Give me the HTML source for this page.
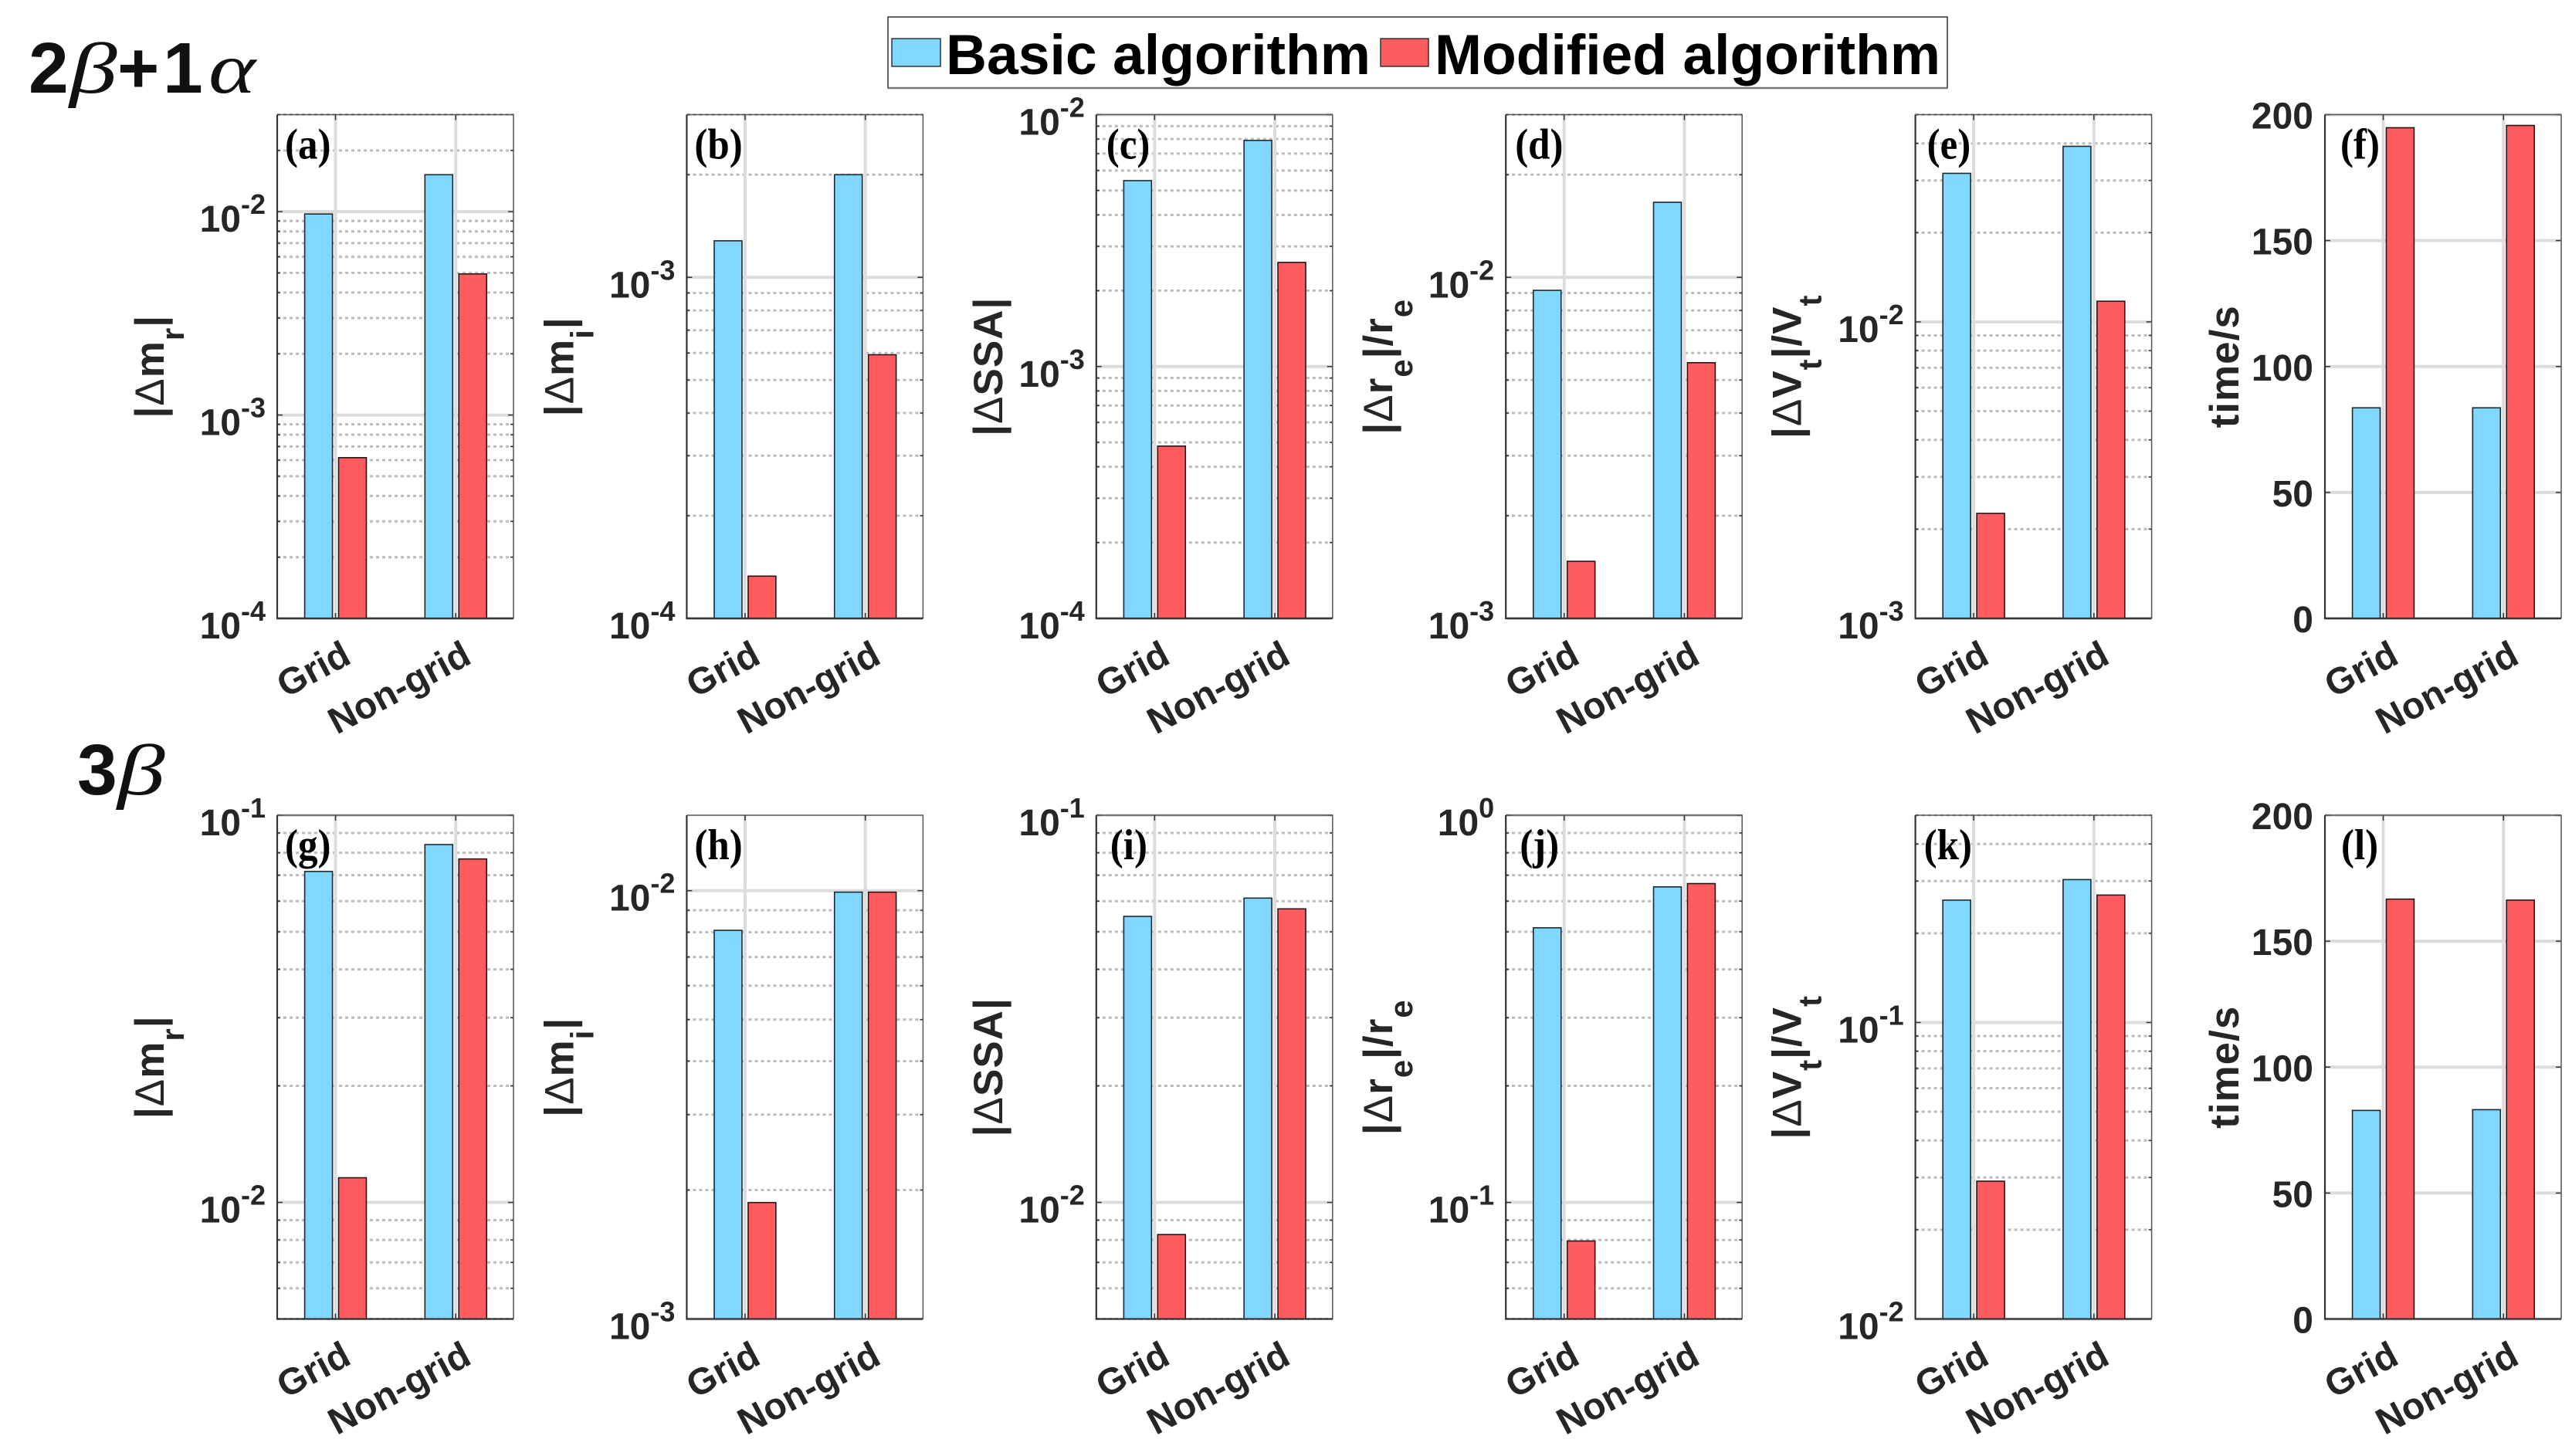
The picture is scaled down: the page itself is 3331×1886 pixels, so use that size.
<!DOCTYPE html>
<html lang="en">
<head>
<meta charset="utf-8">
<title>Basic vs modified algorithm error comparison</title>
<style>
  html, body { margin: 0; padding: 0; background: #ffffff; }
  svg { display: block; }
  text { font-family: "Liberation Sans", Arial, sans-serif; }
  .greek { font-family: "Liberation Serif", serif; font-style: italic; font-weight: 400; }
</style>
</head>
<body>
<svg id="figure" xmlns="http://www.w3.org/2000/svg" width="3331" height="1886" viewBox="0 0 3331 1886">
  <rect x="0" y="0" width="3331" height="1886" fill="#ffffff"/>

  <g font-size="93" font-weight="700" fill="#111111">
    <text x="37" y="120">2</text>
    <text class="greek" transform="translate(90 120) scale(1.33 1)">β</text>
    <text x="152" y="120">+</text>
    <text x="211" y="120">1</text>
    <text class="greek" transform="translate(270 120) scale(1.25 1)">α</text>
  </g>
  <g font-size="93" font-weight="700" fill="#111111">
    <text x="100" y="1029">3</text>
    <text class="greek" transform="translate(152 1029) scale(1.33 1)">β</text>
  </g>

  <g>
    <rect x="1150" y="22" width="1372" height="92" fill="#ffffff" stroke="#333333" stroke-width="1.5"/>
    <line x1="1150" y1="114" x2="2522" y2="114" stroke="#777777" stroke-width="2.5"/>
    <g>
      <rect x="1155" y="50" width="63" height="36" fill="#80d7ff" stroke="#333333" stroke-width="1.5"/>
      <text x="1225" y="96" font-size="73" font-weight="700" fill="#000000" textLength="550" lengthAdjust="spacingAndGlyphs">Basic algorithm</text>
    </g>
    <g>
      <rect x="1788" y="50" width="62" height="36" fill="#ff5c60" stroke="#333333" stroke-width="1.5"/>
      <text x="1858" y="96" font-size="73" font-weight="700" fill="#000000" textLength="655" lengthAdjust="spacingAndGlyphs">Modified algorithm</text>
    </g>
  </g>

  <g id="panels"></g>
</svg>

<script>
// ---------- chart data ----------
const categories = ['Grid', 'Non-grid'];
const panelLetters = ['(a)', '(b)', '(c)', '(d)', '(e)', '(f)', '(g)', '(h)', '(i)', '(j)', '(k)', '(l)'];
const yTitles = [
  '|Δm_r|', '|Δm_i|', '|ΔSSA|', '|Δr_e|/r_e', '|ΔV_t|/V_t', 'time/s',
  '|Δm_r|', '|Δm_i|', '|ΔSSA|', '|Δr_e|/r_e', '|ΔV_t|/V_t', 'time/s'
];
const basicValues = [
  [0.00974, 0.0152], [0.00128, 0.0020], [0.00547, 0.0079],
  [0.00916, 0.0166], [0.0317, 0.0391], [83.6, 83.6],
  [0.0716, 0.084], [0.00808, 0.00992], [0.0548, 0.0611],
  [0.512, 0.653], [0.2586, 0.3033], [82.8, 83.1]
];
const modifiedValues = [
  [0.000617, 0.00494], [0.000133, 0.000593], [0.000483, 0.00259],
  [0.00147, 0.00562], [0.00226, 0.01174], [194.8, 195.7],
  [0.01158, 0.0771], [0.00187, 0.00992], [0.00826, 0.0573],
  [0.0795, 0.666], [0.02915, 0.269], [166.7, 166.3]
];
const yLimits = [
  [1e-4, 0.03], [1e-4, 0.003], [1e-4, 0.01],
  [1e-3, 0.03], [1e-3, 0.05], [0, 200],
  [0.005, 0.1], [1e-3, 0.015], [0.005, 0.1],
  [0.05, 1], [0.01, 0.5], [0, 200]
];
const yScaleTypes = ['log', 'log', 'log', 'log', 'log', 'linear', 'log', 'log', 'log', 'log', 'log', 'linear'];
const logTickExponents = [
  [-4, -3, -2], [-4, -3], [-4, -3, -2],
  [-3, -2], [-3, -2], [],
  [-2, -1], [-3, -2], [-2, -1],
  [-1, 0], [-2, -1], []
];
const linearTickValues = [0, 50, 100, 150, 200];

// ---------- layout constants ----------
const NS = 'http://www.w3.org/2000/svg';
const AX_W = 306, AX_H = 652.5, COLS = 6;
const XLIM = [0.515, 2.48];
const BAR_OFFSET = 0.141, BAR_WIDTH = 0.231;
const BASIC_FILL = '#80d7ff', MOD_FILL = '#ff5c60', TEXT_FILL = '#262626';
const titleGap = [147, 147, 122, 147, 148, 112];
const letterInset = [10, 10, 13, 12, 15, 20, 10, 10, 18, 18, 11, 21];

function make(tag, parent, attrs) {
  const el = document.createElementNS(NS, tag);
  for (const k in attrs) el.setAttribute(k, attrs[k]);
  parent.appendChild(el);
  return el;
}
function axLeft(p) { return 359 + (p % COLS) * 530.4; }
function axTop(p) { return p < COLS ? 148.5 : 1056; }
function xScale(p, v) { return axLeft(p) + (v - XLIM[0]) / (XLIM[1] - XLIM[0]) * AX_W; }
function yScale(p, v) {
  const lim = yLimits[p], bottom = axTop(p) + AX_H;
  if (yScaleTypes[p] === 'log') {
    return bottom - (Math.log10(v) - Math.log10(lim[0])) / (Math.log10(lim[1]) - Math.log10(lim[0])) * AX_H;
  }
  return bottom - (v - lim[0]) / (lim[1] - lim[0]) * AX_H;
}
function minorValues(p) {
  const out = [], lim = yLimits[p];
  const lo = Math.floor(Math.log10(lim[0]) + 1e-9), hi = Math.ceil(Math.log10(lim[1]) - 1e-9);
  for (let e = lo; e < hi; e++) {
    for (let m = 2; m <= 9; m++) {
      const v = m * Math.pow(10, e);
      if (v >= lim[0] * 0.999 && v <= lim[1] * 1.001) out.push(v);
    }
  }
  return out;
}

const root = document.getElementById('panels');

for (let p = 0; p < panelLetters.length; p++) {
  const id = panelLetters[p].replace(/[()]/g, '');
  const L = axLeft(p), T = axTop(p), B = T + AX_H, R = L + AX_W;

  const g = make('g', root, {});
  
  

  // minor grid (log panels)
  if (yScaleTypes[p] === 'log') {
    minorValues(p).forEach(function (v) {
      const y = yScale(p, v);
      const gl = make('line', g, { x1: L, x2: R, y1: y, y2: y, stroke: '#bcbcbc', 'stroke-width': 3, 'stroke-dasharray': '4 4' });
      
      
      const t1 = make('line', g, { x1: L, x2: L + 4, y1: y, y2: y, stroke: '#333333', 'stroke-width': 1.5 });
      
      
      const t2 = make('line', g, { x1: R - 4, x2: R, y1: y, y2: y, stroke: '#333333', 'stroke-width': 1.5 });
      
      
    });
  }

  // major y grid, ticks, labels
  const isLog = yScaleTypes[p] === 'log';
  const majors = isLog ? logTickExponents[p] : linearTickValues;
  majors.forEach(function (m) {
    const v = isLog ? Math.pow(10, m) : m;
    const y = yScale(p, v);
    const gl = make('line', g, { x1: L, x2: R, y1: y, y2: y, stroke: '#dcdcdc', 'stroke-width': 4 });
    
    
    const t1 = make('line', g, { x1: L, x2: L + 7, y1: y, y2: y, stroke: '#333333', 'stroke-width': 1.5 });
    
    
    const t2 = make('line', g, { x1: R - 7, x2: R, y1: y, y2: y, stroke: '#333333', 'stroke-width': 1.5 });
    
    

    const label = make('text', g, { x: L - 15, y: y + (isLog ? 26 : 18), 'text-anchor': 'end', 'font-size': 48, 'font-weight': 700, fill: TEXT_FILL });
    
    
    if (isLog) {
      const base = make('tspan', label, {});
      base.textContent = '10';
      const exp = make('tspan', label, { 'font-size': 36, dy: -23 });
      exp.textContent = String(m);
    } else {
      label.textContent = String(m);
    }
  });

  // vertical grid
  categories.forEach(function (cat, i) {
    const x = xScale(p, i + 1);
    const gl = make('line', g, { x1: x, x2: x, y1: T, y2: B, stroke: '#dcdcdc', 'stroke-width': 4 });
    
    
  });

  // bars
  categories.forEach(function (cat, i) {
    const xc = i + 1;
    const bx = xScale(p, xc - BAR_OFFSET - BAR_WIDTH / 2);
    const mx = xScale(p, xc + BAR_OFFSET - BAR_WIDTH / 2);
    const w = xScale(p, XLIM[0] + BAR_WIDTH) - L;
    const by = yScale(p, basicValues[p][i]);
    const basic = make('rect', g, { x: bx, y: by, width: w, height: B - by, fill: BASIC_FILL, stroke: '#1c2a30', 'stroke-width': 1.6 });
    
    
    const my = yScale(p, modifiedValues[p][i]);
    const modified = make('rect', g, { x: mx, y: my, width: w, height: B - my, fill: MOD_FILL, stroke: '#2a1416', 'stroke-width': 1.6 });
    
    
  });

  // axes box
  const box = make('path', g, { d: 'M' + L + ' ' + T + 'H' + R + 'V' + B, fill: 'none', stroke: '#555555', 'stroke-width': 1.5 });
  
  
  const axes = make('path', g, { d: 'M' + L + ' ' + T + 'V' + B + 'H' + R, fill: 'none', stroke: '#333333', 'stroke-width': 2.2 });
  
  

  categories.forEach(function (cat, i) {
    const x = xScale(p, i + 1);
    const tb = make('line', g, { x1: x, x2: x, y1: B - 7, y2: B, stroke: '#333333', 'stroke-width': 1.5 });
    
    
    const tt = make('line', g, { x1: x, x2: x, y1: T, y2: T + 7, stroke: '#333333', 'stroke-width': 1.5 });
    
    
    const lx = x + 22.5, ly = B + 57;
    const lab = make('text', g, { x: lx, y: ly, 'text-anchor': 'end', 'font-size': 48, 'font-weight': 700, fill: TEXT_FILL, transform: 'rotate(-28 ' + lx + ' ' + ly + ')' });
    
    
    lab.textContent = cat;
  });

  // panel letter (slightly tall, as in the reference)
  const letter = make('text', g, { 'font-size': 51, 'font-weight': 700, fill: '#000000', style: 'font-family:"Liberation Serif",serif', transform: 'translate(' + (L + letterInset[p]) + ' ' + (T + 57) + ') scale(1 1.1)' });
  
  
  letter.textContent = panelLetters[p];

  // y-axis title: "_x" marks a subscript, delta drawn non-bold
  const tx = L - titleGap[p % COLS], ty = (T + B) / 2;
  const title = make('text', g, { x: tx, y: ty, 'text-anchor': 'middle', 'font-size': 53, 'font-weight': 700, fill: TEXT_FILL, 'letter-spacing': 1, transform: 'rotate(-90 ' + tx + ' ' + ty + ')' });
  
  
  yTitles[p].split(/(_.|Δ)/).filter(Boolean).forEach(function (part, idx, all) {
    const prevSub = idx > 0 && all[idx - 1].charAt(0) === '_';
    if (part.charAt(0) === '_') {
      const sub = make('tspan', title, { 'font-size': 42, dy: 26 });
      sub.textContent = part.charAt(1);
    } else {
      const span = make('tspan', title, part === 'Δ' ? { 'font-weight': 400 } : {});
      if (prevSub) span.setAttribute('dy', -26);
      span.textContent = part;
    }
  });
}
</script>
</body>
</html>
